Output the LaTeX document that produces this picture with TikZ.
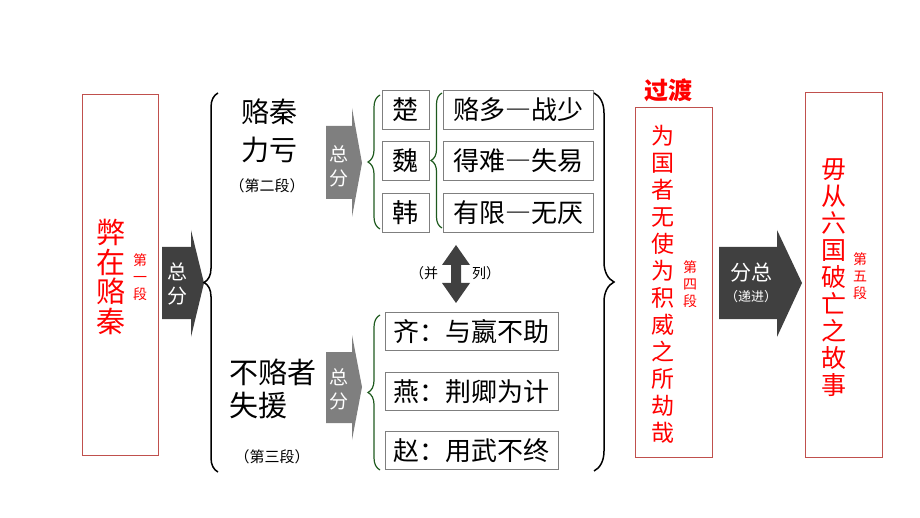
\documentclass[tikz,border=0pt]{standalone}
\usepackage{fontspec}
\setmainfont{Noto Sans CJK SC}
\newfontfamily\fwfont[RawFeature=+fwid]{Noto Sans CJK SC}
\usetikzlibrary{decorations.pathreplacing,positioning}
\definecolor{boxred}{RGB}{192,80,77}
\definecolor{darkarrow}{RGB}{64,64,64}
\definecolor{grayarrow}{RGB}{127,127,127}
\definecolor{bracegreen}{RGB}{30,90,30}
\newcommand{\fwdash}{{\fwfont —}}
\tikzset{
  redbox/.style={draw=boxred, line width=1pt, inner sep=0},
  itembox/.style={draw=grayarrow, line width=0.9pt, inner sep=0, font=\fontsize{26}{26}\selectfont},
  redtext/.style={text=red, inner sep=0, align=center},
  smalllabel/.style={font=\fontsize{14}{17}\selectfont},
  paralabel/.style={font=\fontsize{15}{15}\selectfont},
  arrowtext/.style={text=white, inner sep=0, align=center},
  curlybrace/.style={decorate, decoration={brace, amplitude=14pt}, line width=1.5pt},
  greenbrace/.style={decorate, decoration={brace, amplitude=12pt}, draw=bracegreen, line width=1.2pt}
}
\begin{document}
\begin{tikzpicture}[x=1pt,y=-1pt]
\useasboundingbox (0,0) rectangle (920,518);

% 第一段
\node[redbox, minimum width=76pt, minimum height=360pt] (duan1) at (120,275) {};
\node[redtext, font=\fontsize{29}{29.5}\selectfont] (bizai) at (111,277) {弊\\在\\赂\\秦};
\node[redtext, smalllabel] (d1) at (140,277) {第\\一\\段};

\fill[darkarrow] (162,247) -- (191,247) -- (191,230) -- (204,283) -- (191,337) -- (191,319) -- (162,319) -- cycle;
\node[arrowtext, font=\fontsize{20}{24}\selectfont] (zf1) at (177,284) {总\\分};

\coordinate (lbtop) at (218,93);
\coordinate (lbbot) at (218,472);
\draw[curlybrace] (lbbot) -- (lbtop);

% 第二段
\node[inner sep=0, align=center, font=\fontsize{28}{38}\selectfont] (luqin) at (269,131) {赂秦\\力亏};
\node[inner sep=0, paralabel] (d2) at (267,186) {（第二段）};

\fill[grayarrow] (326,126) -- (352,126) -- (352,108) -- (362,163) -- (352,217) -- (352,199) -- (326,199) -- cycle;
\node[arrowtext, font=\fontsize{19}{24}\selectfont] (zf2) at (339,166) {总\\分};

\coordinate (g1top) at (380,95);
\coordinate (g1bot) at (380,229);
\draw[greenbrace] (g1bot) -- (g1top);

\node[itembox, minimum width=47pt, minimum height=39pt] (chu) at (405.5,110) {楚};
\node[itembox, minimum width=47pt, minimum height=39pt] (wei) at (405.5,161) {魏};
\node[itembox, minimum width=47pt, minimum height=39pt] (hann) at (405.5,213) {韩};

\coordinate (g2top) at (442,93);
\coordinate (g2bot) at (442,228);
\draw[greenbrace, decoration={amplitude=11pt}] (g2bot) -- (g2top);

\node[itembox, minimum width=150pt, minimum height=39pt] (chu2) at (518,110) {赂多\fwdash 战少};
\node[itembox, minimum width=150pt, minimum height=39pt] (wei2) at (518,161) {得难\fwdash 失易};
\node[itembox, minimum width=150pt, minimum height=39pt] (hann2) at (518,213) {有限\fwdash 无厌};

% 并列
\fill[darkarrow] (456,245) -- (470,265) -- (461,265) -- (461,283) -- (470,283) -- (456,303) -- (442,283) -- (451,283) -- (451,265) -- (442,265) -- cycle;
\node[inner sep=0, smalllabel] (bing) at (424,273) {（并};
\node[inner sep=0, smalllabel] (lie) at (486,273) {列）};

% 第三段
\node[inner sep=0, align=left, font=\fontsize{29}{33}\selectfont] (bulu) at (273,389) {不赂者\\失援};
\node[inner sep=0, paralabel] (d3) at (272,457) {（第三段）};

\fill[grayarrow] (326,352) -- (352,352) -- (352,335) -- (362,387) -- (352,440) -- (352,423) -- (326,423) -- cycle;
\node[arrowtext, font=\fontsize{19}{24}\selectfont] (zf3) at (339,389) {总\\分};

\coordinate (g3top) at (380,315);
\coordinate (g3bot) at (380,470);
\draw[greenbrace] (g3bot) -- (g3top);

\node[itembox, minimum width=173pt, minimum height=38pt] (qi) at (471.5,331.5) {齐：与嬴不助};
\node[itembox, minimum width=173pt, minimum height=38pt] (yan) at (471.5,391.5) {燕：荆卿为计};
\node[itembox, minimum width=173pt, minimum height=38pt] (zhao) at (471.5,450.5) {赵：用武不终};

\coordinate (rbtop) at (594,93);
\coordinate (rbbot) at (594,471);
\draw[curlybrace, decoration={amplitude=20pt}] (rbtop) -- (rbbot);

% 第四段
\node[redtext, font=\bfseries\fontsize{24}{24}\selectfont] (guodu) at (668,90) {过渡};
\node[redbox, minimum width=77pt, minimum height=349pt] (duan4) at (673.5,282.5) {};
\node[redtext, font=\fontsize{23}{27}\selectfont] (weiguo) at (663,284) {为\\国\\者\\无\\使\\为\\积\\威\\之\\所\\劫\\哉};
\node[redtext, smalllabel] (d4) at (690,284) {第\\四\\段};

\fill[darkarrow] (719,247) -- (777,247) -- (777,230) -- (802,283) -- (777,337) -- (777,319) -- (719,319) -- cycle;
\node[arrowtext, font=\fontsize{21}{21}\selectfont] (fz) at (751,273) {分总};
\node[arrowtext, font=\fontsize{13}{13}\selectfont] (dijin) at (751,297) {（递进）};

% 第五段
\node[redbox, minimum width=77pt, minimum height=364pt] (duan5) at (843.5,275) {};
\node[redtext, font=\fontsize{25}{27}\selectfont] (wucong) at (834,278) {毋\\从\\六\\国\\破\\亡\\之\\故\\事};
\node[redtext, smalllabel] (d5) at (860,276) {第\\五\\段};

\end{tikzpicture}
\end{document}
